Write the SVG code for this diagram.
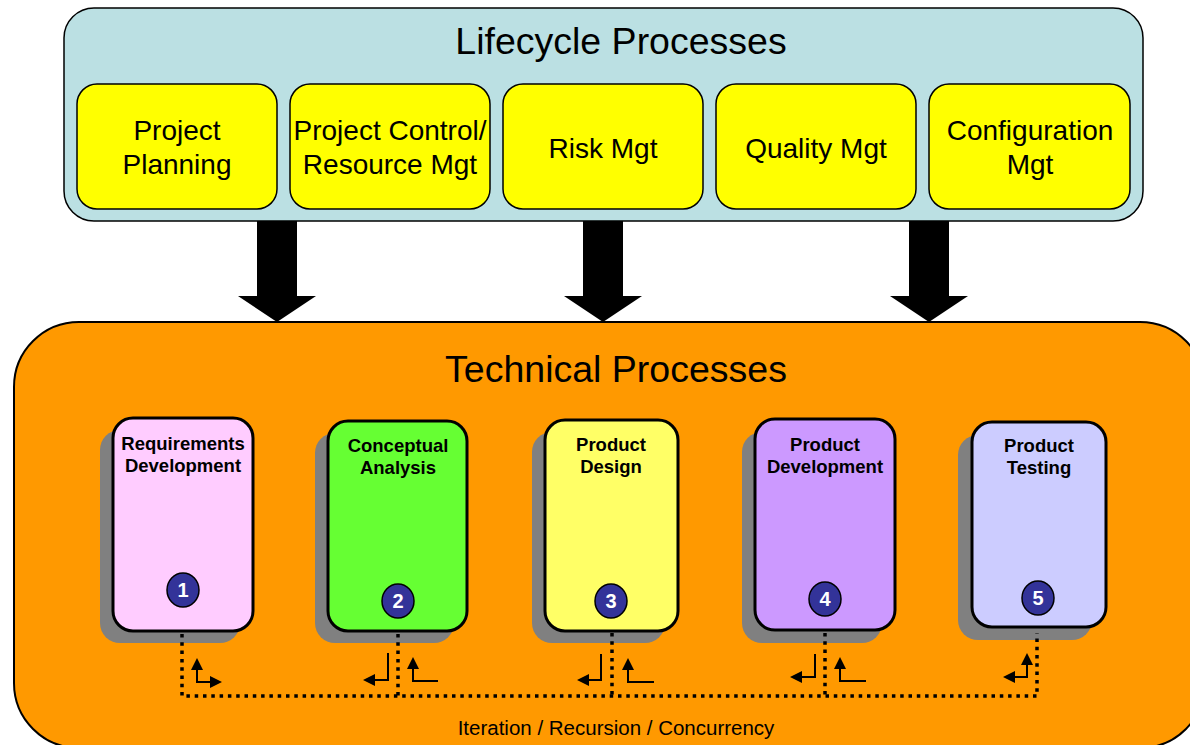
<svg xmlns="http://www.w3.org/2000/svg" width="1190" height="745" viewBox="0 0 1190 745">
<defs>
<marker id="ah" viewBox="0 0 12 12" refX="0" refY="6" markerWidth="12" markerHeight="12" orient="auto-start-reverse" markerUnits="userSpaceOnUse"><path d="M0,0 L12,6 L0,12 z" fill="#000"/></marker>
<style>
.t{font-family:"Liberation Sans",Arial,sans-serif;text-anchor:middle;fill:#000}
.big{font-size:37.5px}
.lc{fill:#FFFF00;stroke:#000;stroke-width:1.5}
.lt{font-size:28px}
.sh{fill:#808080}
.tb{stroke:#000;stroke-width:3}
.tt{font-size:18.5px;font-weight:bold}
.num{fill:#333399;stroke:#000;stroke-width:1.5}
.nt{font-size:20px;font-weight:bold;fill:#fff}
.dot{fill:none;stroke:#000;stroke-width:3.5;stroke-dasharray:3.5 4.8}
.el{fill:none;stroke:#000;stroke-width:2}
</style>
</defs>
<rect width="1190" height="745" fill="#fff"/>

<g id="lifecycle">
<rect x="64" y="8" width="1079" height="213" rx="30" fill="#BBE0E3" stroke="#000" stroke-width="1.5"/>
<text class="t big" x="621" y="54">Lifecycle Processes</text>
</g>
<g id="project-planning">
<rect class="lc" x="77" y="84" width="200" height="125" rx="20"/>
<text class="t lt" x="177" y="140">Project</text>
<text class="t lt" x="177" y="174">Planning</text>
</g>
<g id="project-control">
<rect class="lc" x="290" y="84" width="200" height="125" rx="20"/>
<text class="t lt" x="390" y="140">Project Control/</text>
<text class="t lt" x="390" y="174">Resource Mgt</text>
</g>
<g id="risk-mgt">
<rect class="lc" x="503" y="84" width="200" height="125" rx="20"/>
<text class="t lt" x="603" y="158">Risk Mgt</text>
</g>
<g id="quality-mgt">
<rect class="lc" x="716" y="84" width="200" height="125" rx="20"/>
<text class="t lt" x="816" y="158">Quality Mgt</text>
</g>
<g id="configuration-mgt">
<rect class="lc" x="929" y="84" width="201" height="125" rx="20"/>
<text class="t lt" x="1030" y="140">Configuration</text>
<text class="t lt" x="1030" y="174">Mgt</text>
</g>

<g id="technical">
<rect x="14" y="322" width="1191" height="426" rx="65" fill="#FF9900" stroke="#000" stroke-width="2"/>
<text class="t big" x="616" y="382">Technical Processes</text>
</g>

<g id="requirements-development">
<rect class="sh" x="100" y="430" width="140" height="213" rx="20"/>
<rect class="tb" x="113" y="418" width="140" height="213" rx="20" fill="#FFCCFF"/>
<text class="t tt" x="183" y="450">Requirements</text>
<text class="t tt" x="183" y="472">Development</text>
<ellipse class="num" cx="183" cy="590" rx="16" ry="17"/>
<text class="t nt" x="183" y="597">1</text>
</g>
<g id="conceptual-analysis">
<rect class="sh" x="315" y="433" width="139" height="210" rx="20"/>
<rect class="tb" x="328" y="421" width="139" height="210" rx="20" fill="#66FF33"/>
<text class="t tt" x="398" y="452">Conceptual</text>
<text class="t tt" x="398" y="474">Analysis</text>
<ellipse class="num" cx="398" cy="601" rx="16" ry="17"/>
<text class="t nt" x="398" y="608">2</text>
</g>
<g id="product-design">
<rect class="sh" x="532" y="432" width="133" height="211" rx="20"/>
<rect class="tb" x="545" y="420" width="133" height="211" rx="20" fill="#FFFF66"/>
<text class="t tt" x="611" y="451">Product</text>
<text class="t tt" x="611" y="473">Design</text>
<ellipse class="num" cx="611" cy="601" rx="16" ry="17"/>
<text class="t nt" x="611" y="608">3</text>
</g>
<g id="product-development">
<rect class="sh" x="742" y="432" width="140" height="211" rx="20"/>
<rect class="tb" x="755" y="419" width="140" height="211" rx="20" fill="#CC99FF"/>
<text class="t tt" x="825" y="451">Product</text>
<text class="t tt" x="825" y="473">Development</text>
<ellipse class="num" cx="825" cy="599" rx="16" ry="17"/>
<text class="t nt" x="825" y="606">4</text>
</g>
<g id="product-testing">
<rect class="sh" x="958" y="435" width="134" height="205" rx="20"/>
<rect class="tb" x="972" y="422" width="134" height="205" rx="20" fill="#CCCCFF"/>
<text class="t tt" x="1039" y="452">Product</text>
<text class="t tt" x="1039" y="474">Testing</text>
<ellipse class="num" cx="1038" cy="598" rx="16" ry="17"/>
<text class="t nt" x="1038" y="605">5</text>
</g>

<g id="connectors">
<polygon points="257,221 297,221 297,296 316,296 277,322 238,296 257,296" fill="#000"/>
<polygon points="583,221 623,221 623,296 642,296 603,322 564,296 583,296" fill="#000"/>
<polygon points="909,221 949,221 949,296 968,296 929,322 890,296 909,296" fill="#000"/>
<path class="dot" d="M182,634 V696 H1037 V633"/>
<path class="dot" d="M398,634 V696"/>
<path class="dot" d="M612,633 V696"/>
<path class="dot" d="M825,633 V696"/>
<path class="el" d="M197,670 V682 H210" marker-start="url(#ah)" marker-end="url(#ah)"/>
<path class="el" d="M388,653 V680 H375" marker-end="url(#ah)"/>
<path class="el" d="M438,681 H413 V669" marker-end="url(#ah)"/>
<path class="el" d="M601,654 V680 H589" marker-end="url(#ah)"/>
<path class="el" d="M654,682 H628 V670" marker-end="url(#ah)"/>
<path class="el" d="M815,654 V677 H802" marker-end="url(#ah)"/>
<path class="el" d="M866,681 H840 V669" marker-end="url(#ah)"/>
<path class="el" d="M1027,665 V677 H1015" marker-start="url(#ah)" marker-end="url(#ah)"/>
<text class="t" x="616" y="735" font-size="20.5">Iteration / Recursion / Concurrency</text>
</g>
</svg>
